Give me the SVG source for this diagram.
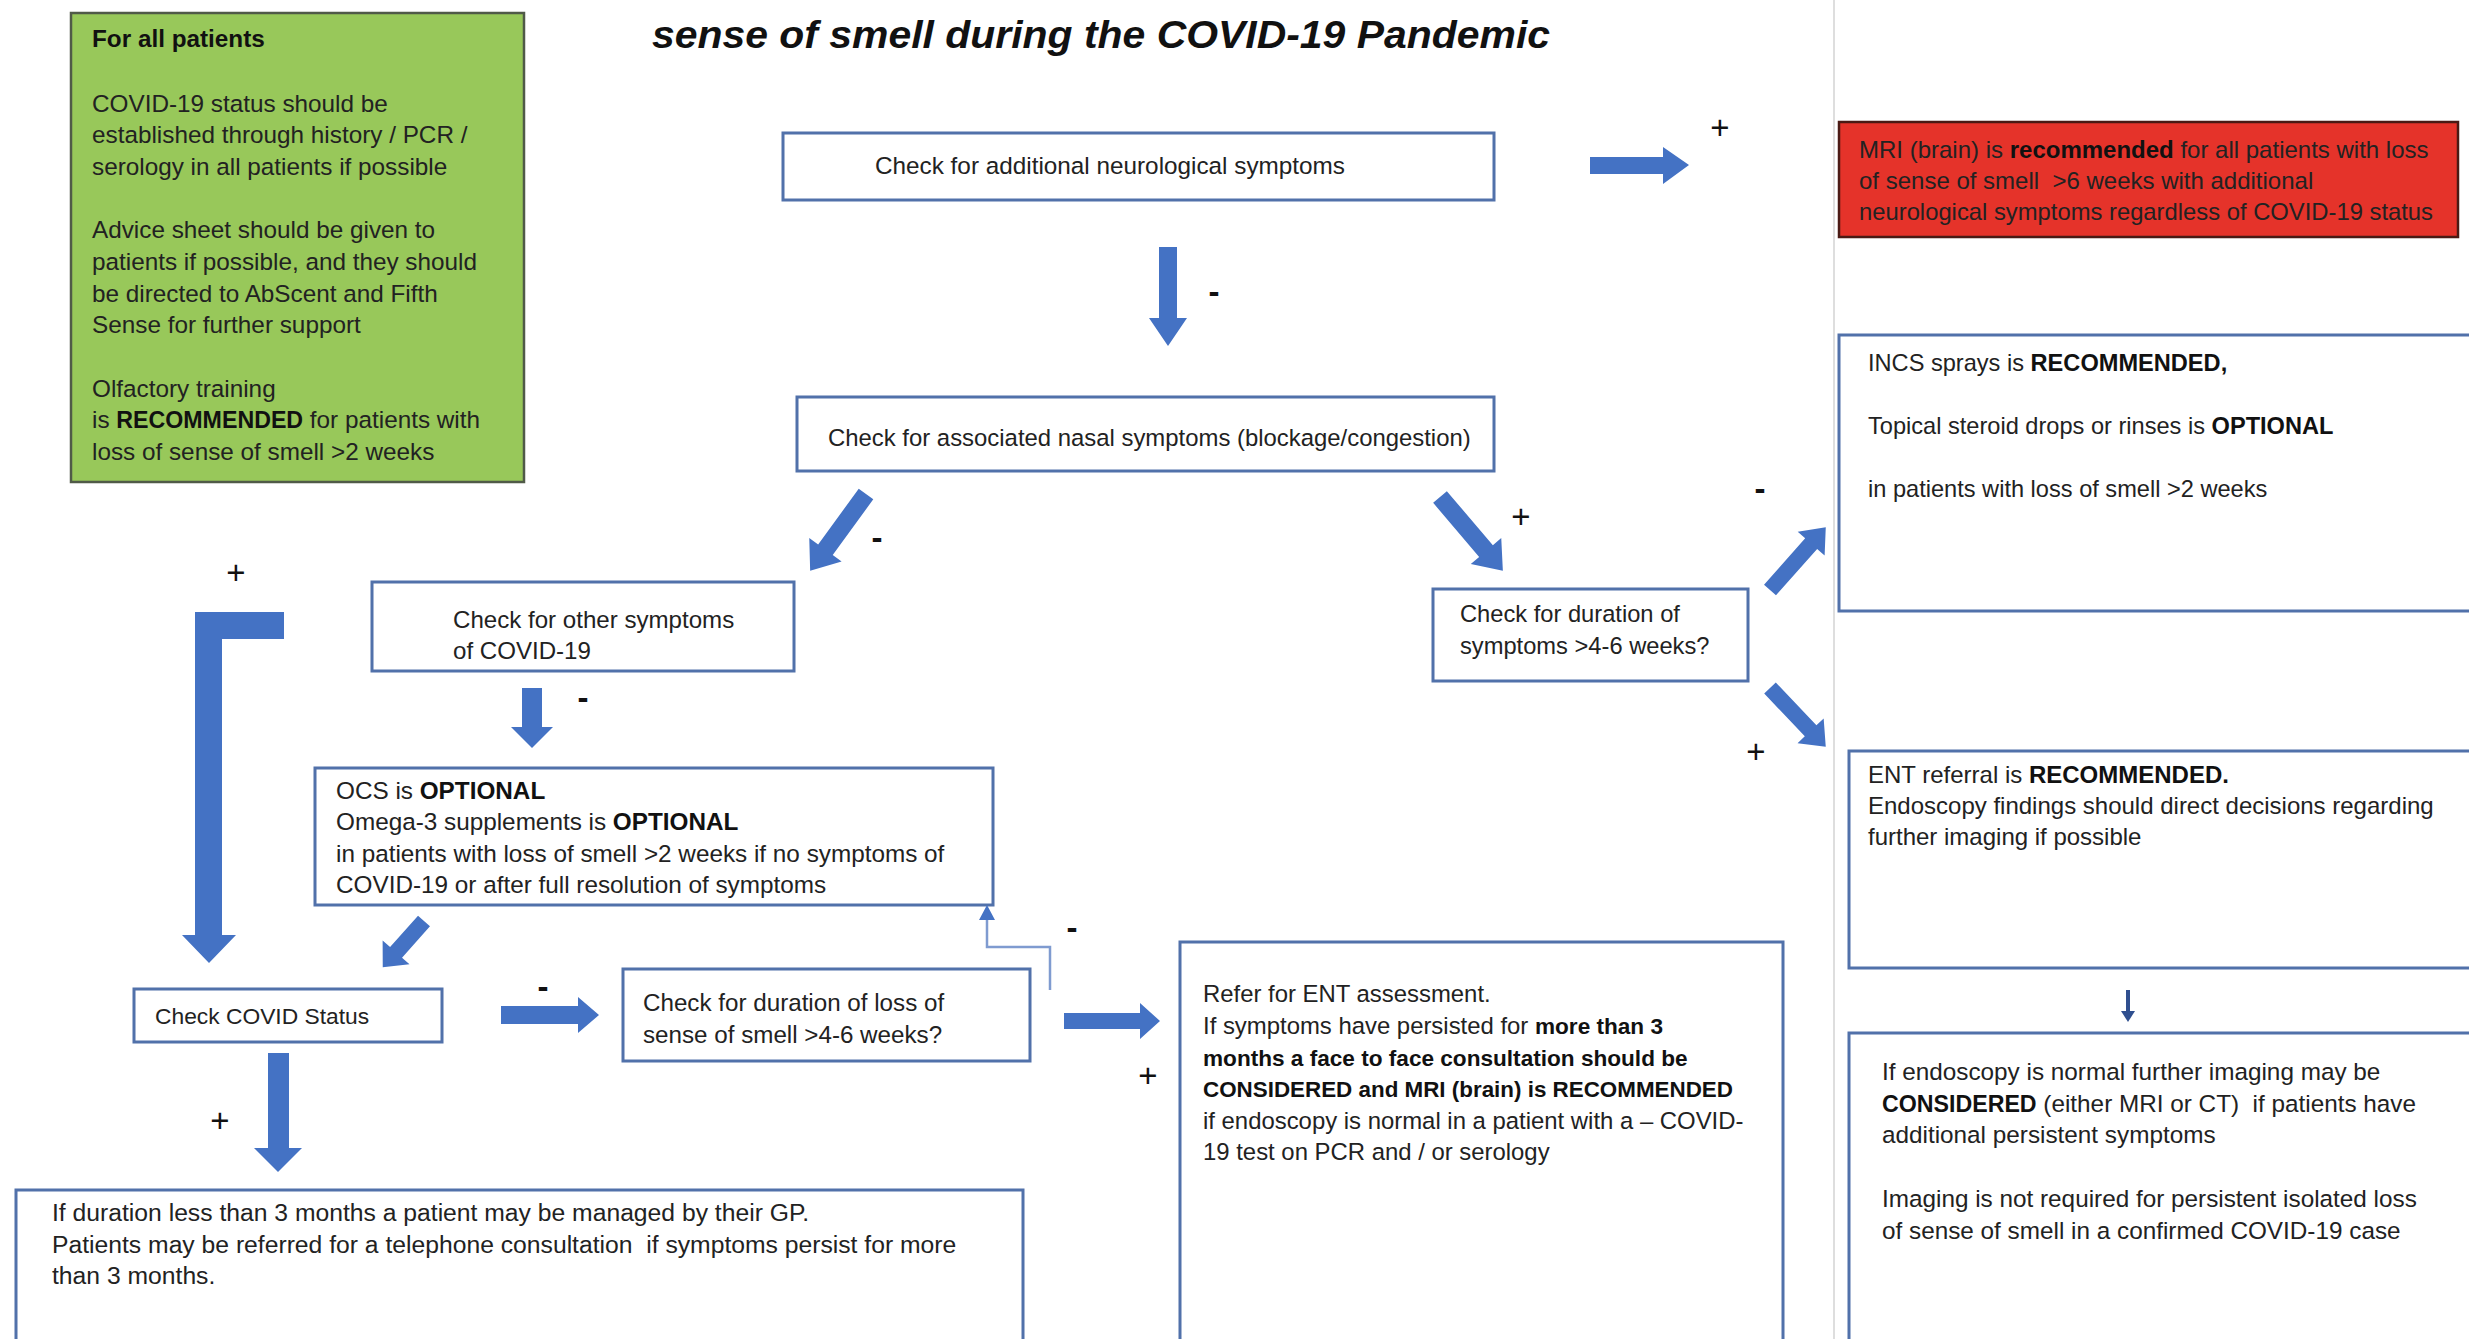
<svg xmlns="http://www.w3.org/2000/svg" width="2469" height="1339" viewBox="0 0 2469 1339">
  <style>
    .box { fill: #ffffff; stroke: #5171aa; stroke-width: 3; }
    .t { font-family: "Liberation Sans", Arial, sans-serif; fill: #222222; }
    .b { font-weight: bold; fill: #111111; }
    .arr { fill: #4472c4; }
    .sign { font-family: "Liberation Sans", Arial, sans-serif; font-size: 33px; fill: #111111; text-anchor: middle; dominant-baseline: central; }
    .dash { font-weight: bold; }
    .thin { fill: none; stroke: #7f9bd0; stroke-width: 2.5; }
  </style>

  <rect x="0" y="0" width="2469" height="1339" fill="#ffffff"/>

  <!-- page divider -->
  <line x1="1834" y1="0" x2="1834" y2="1339" stroke="#dedede" stroke-width="2"/>

  <!-- title -->
  <text x="652" y="48" font-family="'Liberation Sans', Arial, sans-serif" font-size="38" font-weight="bold" font-style="italic" fill="#111111" textLength="898" lengthAdjust="spacingAndGlyphs">sense of smell during the COVID-19 Pandemic</text>

  <!-- general advice -->
  <g id="all-patients" font-size="24.3">
    <rect x="71" y="13" width="453" height="469" fill="#98c85a" stroke="#505a48" stroke-width="2.5"/>
    <text class="t" x="92" y="47"><tspan class="b">For all patients</tspan></text>
    <text class="t" x="92" y="112">COVID-19 status should be</text>
    <text class="t" x="92" y="143">established through history / PCR /</text>
    <text class="t" x="92" y="175">serology in all patients if possible</text>
    <text class="t" x="92" y="238">Advice sheet should be given to</text>
    <text class="t" x="92" y="270">patients if possible, and they should</text>
    <text class="t" x="92" y="302">be directed to AbScent and Fifth</text>
    <text class="t" x="92" y="333">Sense for further support</text>
    <text class="t" x="92" y="397">Olfactory training</text>
    <text class="t" x="92" y="428">is <tspan class="b" font-size="23.2">RECOMMENDED</tspan> for patients with</text>
    <text class="t" x="92" y="460">loss of sense of smell &gt;2 weeks</text>
  </g>

  <g id="neuro-check" font-size="24.3">
    <rect class="box" x="783" y="133" width="711" height="67"/>
    <text class="t" x="875" y="174">Check for additional neurological symptoms</text>
  </g>

  <g id="mri-brain" font-size="24">
    <rect x="1839" y="122" width="619" height="115" fill="#e5332a" stroke="#4a1a14" stroke-width="2.5"/>
    <text class="t" x="1859" y="158" fill="#3a0d08">MRI (brain) is <tspan class="b" fill="#2a0805">recommended</tspan> for all patients with loss</text>
    <text class="t" x="1859" y="189" fill="#3a0d08">of sense of smell &#160;&gt;6 weeks with additional</text>
    <text class="t" x="1859" y="220" fill="#3a0d08" font-size="23.8">neurological symptoms regardless of COVID-19 status</text>
  </g>

  <g id="nasal-check" font-size="23.9">
    <rect class="box" x="797" y="397" width="697" height="74"/>
    <text class="t" x="828" y="446">Check for associated nasal symptoms (blockage/congestion)</text>
  </g>

  <g id="other-symptoms" font-size="24.1">
    <rect class="box" x="372" y="582" width="422" height="89"/>
    <text class="t" x="453" y="628">Check for other symptoms</text>
    <text class="t" x="453" y="659">of COVID-19</text>
  </g>

  <g id="symptom-duration" font-size="23.7">
    <rect class="box" x="1433" y="589" width="315" height="92"/>
    <text class="t" x="1460" y="622">Check for duration of</text>
    <text class="t" x="1460" y="654">symptoms &gt;4-6 weeks?</text>
  </g>

  <g id="incs" font-size="23.6">
    <rect class="box" x="1839" y="335" width="640" height="276"/>
    <text class="t" x="1868" y="371">INCS sprays is <tspan class="b">RECOMMENDED,</tspan></text>
    <text class="t" x="1868" y="434">Topical steroid drops or rinses is <tspan class="b">OPTIONAL</tspan></text>
    <text class="t" x="1868" y="497">in patients with loss of smell &gt;2 weeks</text>
  </g>

  <g id="ocs" font-size="24.3">
    <rect class="box" x="315" y="768" width="678" height="137"/>
    <text class="t" x="336" y="799">OCS is <tspan class="b">OPTIONAL</tspan></text>
    <text class="t" x="336" y="830">Omega-3 supplements is <tspan class="b">OPTIONAL</tspan></text>
    <text class="t" x="336" y="862">in patients with loss of smell &gt;2 weeks if no symptoms of</text>
    <text class="t" x="336" y="893">COVID-19 or after full resolution of symptoms</text>
  </g>

  <g id="ent-referral" font-size="24">
    <rect class="box" x="1849" y="751" width="630" height="217"/>
    <text class="t" x="1868" y="783">ENT referral is <tspan class="b">RECOMMENDED.</tspan></text>
    <text class="t" x="1868" y="814">Endoscopy findings should direct decisions regarding</text>
    <text class="t" x="1868" y="845">further imaging if possible</text>
  </g>

  <g id="covid-status" font-size="22.8">
    <rect class="box" x="134" y="989" width="308" height="53"/>
    <text class="t" x="155" y="1024">Check COVID Status</text>
  </g>

  <g id="loss-duration" font-size="24.2">
    <rect class="box" x="623" y="969" width="407" height="92"/>
    <text class="t" x="643" y="1011">Check for duration of loss of</text>
    <text class="t" x="643" y="1043">sense of smell &gt;4-6 weeks?</text>
  </g>

  <g id="ent-assessment" font-size="23.9">
    <rect class="box" x="1180" y="942" width="603" height="420"/>
    <text class="t" x="1203" y="1002">Refer for ENT assessment.</text>
    <text class="t" x="1203" y="1034">If symptoms have persisted for <tspan class="b" font-size="22.6">more than 3</tspan></text>
    <text class="t b" x="1203" y="1066" font-size="22.6">months a face to face consultation should be</text>
    <text class="t b" x="1203" y="1097" font-size="22.4">CONSIDERED and MRI (brain) is RECOMMENDED</text>
    <text class="t" x="1203" y="1129">if endoscopy is normal in a patient with a – COVID-</text>
    <text class="t" x="1203" y="1160">19 test on PCR and / or serology</text>
  </g>

  <g id="endoscopy-normal" font-size="24.3">
    <rect class="box" x="1849" y="1033" width="630" height="330"/>
    <text class="t" x="1882" y="1080">If endoscopy is normal further imaging may be</text>
    <text class="t" x="1882" y="1112"><tspan class="b" font-size="23.2">CONSIDERED</tspan> (either MRI or CT) &#160;if patients have</text>
    <text class="t" x="1882" y="1143">additional persistent symptoms</text>
    <text class="t" x="1882" y="1207">Imaging is not required for persistent isolated loss</text>
    <text class="t" x="1882" y="1239">of sense of smell in a confirmed COVID-19 case</text>
  </g>

  <g id="gp-management" font-size="24.7">
    <rect class="box" x="16" y="1190" width="1007" height="180"/>
    <text class="t" x="52" y="1221">If duration less than 3 months a patient may be managed by their GP.</text>
    <text class="t" x="52" y="1253">Patients may be referred for a telephone consultation &#160;if symptoms persist for more</text>
    <text class="t" x="52" y="1284">than 3 months.</text>
  </g>

  <!-- connectors -->
  <g id="connectors">
    <!-- neuro + : right to MRI -->
    <polygon class="arr" points="1590,157 1663,157 1663,147 1689,165 1663,184 1663,174 1590,174"/>
    <!-- neuro - : down to nasal -->
    <polygon class="arr" points="1159,247 1177,247 1177,318 1187,318 1168,346 1149,318 1159,318"/>
    <!-- nasal - : down-left -->
    <polygon class="arr" transform="translate(866,494) rotate(126)" points="0,-9 69,-9 69,-20 95,0 69,20 69,9 0,9"/>
    <!-- nasal + : down-right -->
    <polygon class="arr" transform="translate(1440,497) rotate(49.6)" points="0,-9 71,-9 71,-20 97,0 71,20 71,9 0,9"/>
    <!-- symptom duration - : up-right to INCS -->
    <polygon class="arr" transform="translate(1770,590) rotate(-48.4)" points="0,-8 62,-8 62,-18 84,0 62,18 62,8 0,8"/>
    <!-- symptom duration + : down-right to ENT referral -->
    <polygon class="arr" transform="translate(1770,688) rotate(46.5)" points="0,-8 59,-8 59,-18 81,0 59,18 59,8 0,8"/>
    <!-- other symptoms - : down to OCS -->
    <polygon class="arr" points="522,688 542,688 542,727 553,727 532,748 511,727 522,727"/>
    <!-- other symptoms + : L-shaped to COVID status -->
    <polygon class="arr" points="284,612 195,612 195,935 182,935 209,963 236,935 222,935 222,639 284,639"/>
    <!-- OCS to COVID status -->
    <polygon class="arr" transform="translate(424,921) rotate(131.7)" points="0,-8 42,-8 42,-18 62,0 42,18 42,8 0,8"/>
    <!-- COVID status - : right to loss duration -->
    <polygon class="arr" points="501,1006 578,1006 578,997 599,1015 578,1033 578,1024 501,1024"/>
    <!-- COVID status + : down to GP -->
    <polygon class="arr" points="268,1053 289,1053 289,1148 302,1148 278,1172 254,1148 268,1148"/>
    <!-- loss duration + : right to ENT assessment -->
    <polygon class="arr" points="1064,1013 1140,1013 1140,1003 1160,1021 1140,1039 1140,1029 1064,1029"/>
    <!-- loss duration - : back up to OCS -->
    <polyline class="thin" points="1050,990 1050,947 987,947 987,918"/>
    <polygon points="979,920 995,920 987,905" fill="#4472c4"/>
    <!-- ENT referral to endoscopy note -->
    <line x1="2128" y1="990" x2="2128" y2="1012" stroke="#2f4f8f" stroke-width="4"/>
    <polygon points="2121,1011 2135,1011 2128,1022" fill="#2f4f8f"/>
  </g>

  <!-- branch signs -->
  <g id="signs">
    <text class="sign" x="1720" y="127">+</text>
    <text class="sign dash" x="1214" y="291">-</text>
    <text class="sign dash" x="877" y="537">-</text>
    <text class="sign" x="1521" y="516">+</text>
    <text class="sign" x="236" y="572">+</text>
    <text class="sign dash" x="583" y="697">-</text>
    <text class="sign dash" x="1760" y="488">-</text>
    <text class="sign" x="1756" y="751">+</text>
    <text class="sign dash" x="1072" y="927">-</text>
    <text class="sign dash" x="543" y="986">-</text>
    <text class="sign" x="220" y="1120">+</text>
    <text class="sign" x="1148" y="1075">+</text>
  </g>
</svg>
